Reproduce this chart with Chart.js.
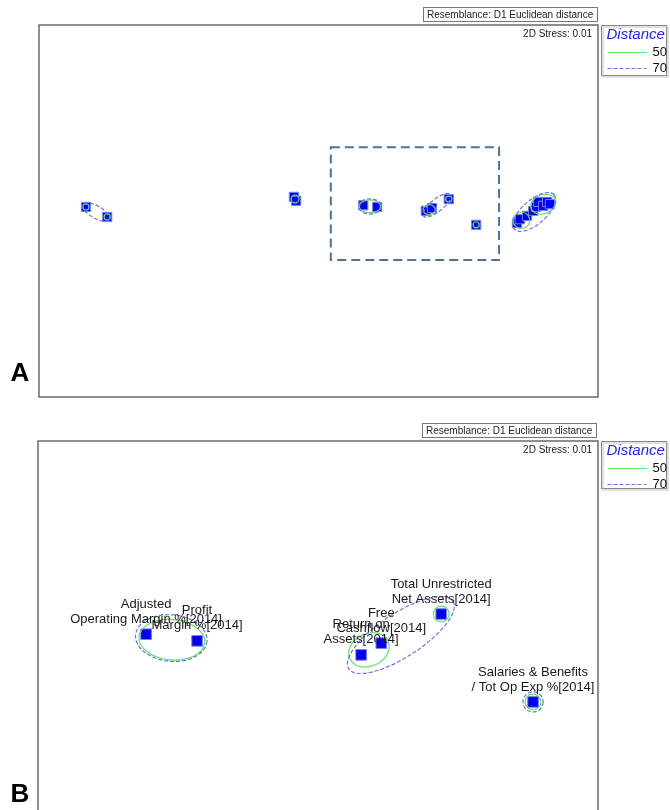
<!DOCTYPE html>
<html>
<head>
<meta charset="utf-8">
<script src="https://cdn.jsdelivr.net/npm/chart.js@4.4.1/dist/chart.umd.min.js"></script>
<style>
  body { margin: 0; background: #fff; }
  #wrap { position: relative; width: 670px; height: 810px; overflow: hidden; }
  canvas { position: absolute; left: 0; }
  #chartA { top: 0; }
  #chartB { top: 405px; }
</style>
</head>
<body>
<div id="wrap">
  <canvas id="chartA" width="670" height="405"></canvas>
  <canvas id="chartB" width="670" height="405"></canvas>
</div>
<script>
// MDS coordinates (same units on both axes)
const aX = [8.4, 12.2, 45.6, 46.0, 58.0, 60.5, 69.2, 70.3, 73.3, 78.2, 85.5, 86.0, 87.3, 88.4, 88.9, 89.3, 90.2, 90.9, 91.4];
const aY = [34.0, 32.2, 35.8, 35.1, 34.3, 34.0, 33.3, 33.8, 35.4, 30.8, 31.1, 31.8, 32.4, 33.3, 34.0, 34.9, 34.2, 34.9, 34.5];

const bLabels = [
    "Adjusted\nOperating Margin %[2014]",
    "Profit\nMargin %[2014]",
    "Return on\nAssets[2014]",
    "Free\nCashflow[2014]",
    "Total Unrestricted\nNet Assets[2014]",
    "Salaries & Benefits\n/ Tot Op Exp %[2014]"
];
const bX = [19.3, 28.4, 57.7, 61.3, 72.0, 88.4];
const bY = [31.4, 30.2, 27.7, 29.8, 35.0, 19.3];

// cluster contours: [centre x, centre y, semi-axis a, semi-axis b, angle deg]
const aContour50 = [
    [8.4, 34.0, 0.55, 0.55, 0], [12.2, 32.2, 0.55, 0.55, 0], [45.8, 35.4, 0.7, 0.7, 0],
    [59.2, 34.1, 1.9, 1.15, 0], [69.8, 33.5, 1.1, 0.9, 0], [73.3, 35.4, 0.55, 0.55, 0],
    [78.2, 30.8, 0.55, 0.55, 0], [86.3, 31.6, 1.5, 1.45, 0], [90.2, 34.5, 2.3, 1.7, 20]
];
const aContour70 = [
    [10.2, 33.1, 2.7, 1.1, -30], [59.2, 34.1, 2.05, 1.35, 0],
    [71.2, 34.3, 3.1, 1.1, 39], [88.6, 33.1, 4.7, 2.15, 41]
];
const bContour50 = [
    [23.9, 30.4, 5.9, 3.6, -5], [59.1, 28.6, 3.75, 2.9, 25],
    [72.0, 35.0, 1.4, 1.4, 0], [88.4, 19.3, 1.4, 1.4, 0]
];
const bContour70 = [
    [23.8, 30.7, 6.4, 4.15, -5], [64.8, 31.25, 11.1, 3.9, 33], [88.4, 19.3, 1.8, 1.8, 0]
];
// zoom box drawn on panel A: [x min, y min, x max, y max]
const aZoomBox = [52.2, 24.5, 82.3, 44.7];

const legendTitle = "Distance";
const legendLevels = ["50", "70"];
const resemblance = "Resemblance: D1 Euclidean distance";
const stress = "2D Stress: 0.01";

const FONT = "'Liberation Sans', Arial, sans-serif";
const GREEN = "#5ee85e";
const BLUE_DASH = "#7070f0";

function drawEllipses(chart, list, color, dashed) {
    const ctx = chart.ctx, xs = chart.scales.x, ys = chart.scales.y;
    const unit = xs.getPixelForValue(1) - xs.getPixelForValue(0);
    ctx.save();
    ctx.strokeStyle = color;
    ctx.lineWidth = 1.2;
    ctx.setLineDash(dashed ? [4, 2] : []);
    list.forEach(e => {
        ctx.beginPath();
        ctx.ellipse(xs.getPixelForValue(e[0]), ys.getPixelForValue(e[1]),
            e[2] * unit, e[3] * unit, -e[4] * Math.PI / 180, 0, Math.PI * 2);
        ctx.stroke();
    });
    ctx.restore();
}

const panelPlugin = {
    id: "panel",
    afterDatasetsDraw(chart, args, opts) {
        const ctx = chart.ctx, a = chart.chartArea;
        drawEllipses(chart, opts.c50, GREEN, false);
        drawEllipses(chart, opts.c70, BLUE_DASH, true);

        ctx.save();
        if (opts.box) {
            const xs = chart.scales.x, ys = chart.scales.y;
            const x1 = xs.getPixelForValue(opts.box[0]), x2 = xs.getPixelForValue(opts.box[2]);
            const y1 = ys.getPixelForValue(opts.box[3]), y2 = ys.getPixelForValue(opts.box[1]);
            ctx.strokeStyle = "#50729a";
            ctx.lineWidth = 2;
            ctx.setLineDash([9, 5]);
            ctx.strokeRect(x1, y1, x2 - x1, y2 - y1);
            ctx.setLineDash([]);
        }

        // point labels
        if (opts.labels) {
            ctx.font = "13px " + FONT;
            ctx.fillStyle = "#1a1a1a";
            ctx.textAlign = "center";
            ctx.textBaseline = "middle";
            chart.getDatasetMeta(0).data.forEach((pt, i) => {
                const lines = opts.labels[i].split("\n");
                lines.forEach((ln, j) => {
                    ctx.fillText(ln, pt.x, pt.y - 15 * (lines.length - j));
                });
            });
        }

        // frame
        ctx.strokeStyle = "#6a6a6a";
        ctx.lineWidth = 1.5;
        ctx.strokeRect(a.left, a.top, a.right - a.left, a.bottom - a.top + opts.extra);

        // stress
        ctx.font = "10px " + FONT;
        ctx.fillStyle = "#222";
        ctx.textAlign = "right";
        ctx.textBaseline = "middle";
        ctx.fillText(stress, a.right - 6, a.top + 9);

        // resemblance box
        ctx.lineWidth = 1;
        ctx.strokeStyle = "#777";
        ctx.strokeRect(a.left + 384.5, a.top - 17.5, 174, 14);
        ctx.textAlign = "left";
        ctx.font = "10px " + FONT;
        ctx.fillText(resemblance, a.left + 388, a.top - 10);

        // legend
        const lx = a.right + 3.5, ly = a.top + 0.5;
        ctx.strokeStyle = "#888";
        ctx.strokeRect(lx, ly, 65, opts.legH);
        ctx.strokeStyle = "#c4c4c4";
        ctx.strokeRect(lx + 1.5, ly + 1.5, 65, opts.legH);
        ctx.font = "italic 15px " + FONT;
        ctx.fillStyle = "#1f1fff";
        ctx.fillText(legendTitle, lx + 5, ly + 9);
        ctx.font = "13px " + FONT;
        ctx.fillStyle = "#111";
        legendLevels.forEach((lv, i) => {
            const yy = Math.round(ly + 26 + i * 16) + 0.5;
            ctx.strokeStyle = i === 0 ? GREEN : BLUE_DASH;
            ctx.lineWidth = 1;
            ctx.setLineDash(i === 0 ? [] : [4, 2]);
            ctx.beginPath();
            ctx.moveTo(lx + 6, yy);
            ctx.lineTo(lx + 45, yy);
            ctx.stroke();
            ctx.setLineDash([]);
            ctx.fillText(lv, lx + 51, yy);
        });

        // panel letter
        ctx.font = "bold 26px " + FONT;
        ctx.fillStyle = "#000";
        ctx.textAlign = "center";
        ctx.fillText(opts.letter, 20, opts.letterY);
        ctx.restore();
    }
};

function makeChart(id, xs, ys, yMax, radius, padding, opts) {
    return new Chart(document.getElementById(id).getContext("2d"), {
        type: "scatter",
        data: {
            datasets: [{
                data: xs.map((x, i) => ({ x: x, y: ys[i] })),
                pointStyle: "rect",
                pointRadius: radius,
                backgroundColor: "#0000f5",
                borderColor: "#7b7bff",
                borderWidth: 1
            }]
        },
        options: {
            responsive: false,
            animation: false,
            layout: { padding: padding, autoPadding: false },
            scales: {
                x: { type: "linear", min: 0, max: 100, display: false },
                y: { type: "linear", min: 0, max: yMax, display: false }
            },
            plugins: {
                legend: { display: false },
                tooltip: { enabled: false },
                panel: opts
            }
        },
        plugins: [panelPlugin]
    });
}

makeChart("chartA", aX, aY, 66.55, 6.5,
    { left: 39, top: 25, right: 72, bottom: 8 },
    { c50: aContour50, c70: aContour70, box: aZoomBox, labels: null, extra: 0, legH: 50, letter: "A", letterY: 374 });

makeChart("chartB", bX, bY, 65.9, 7.5,
    { left: 38, top: 36, right: 72, bottom: 0 },
    { c50: bContour50, c70: bContour70, box: null, labels: bLabels, extra: 4, legH: 47, letter: "B", letterY: 390 });
</script>
</body>
</html>
